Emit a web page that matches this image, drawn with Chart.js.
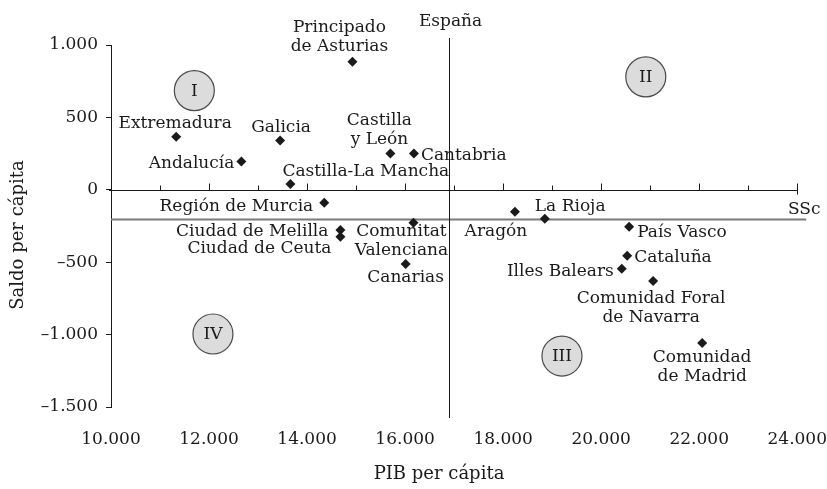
<!DOCTYPE html>
<html>
<head>
<meta charset="utf-8">
<script src="https://cdn.jsdelivr.net/npm/chart.js@4"></script>
<style>
  html, body { margin: 0; padding: 0; background: #fff; }
  canvas { display: block; }
</style>
</head>
<body>
<canvas id="chart" width="827" height="489"></canvas>
<script>
// regions (line breaks = how the label is split on the chart)
const regions = [
  "Extremadura", "Andalucía", "Galicia", "Castilla-La Mancha", "Región de Murcia",
  "Ciudad de Melilla", "Ciudad de Ceuta", "Principado\nde Asturias", "Castilla\ny León",
  "Canarias", "Cantabria", "Comunitat\nValenciana", "Aragón", "La Rioja",
  "Illes Balears", "Cataluña", "País Vasco", "Comunidad Foral\nde Navarra", "Comunidad\nde Madrid"
];
const pibPerCapita = [
  11330, 12660, 13450, 13660, 14350,
  14680, 14680, 14925, 15700,
  16010, 16180, 16170, 18240, 18850,
  20420, 20530, 20570, 21060, 22060
];
const saldoPerCapita = [
  367, 195, 340, 40, -90,
  -277, -325, 885, 250,
  -512, 250, -228, -152, -200,
  -546, -456, -256, -629, -1058
];

const xTickValues = [10000, 12000, 14000, 16000, 18000, 20000, 22000, 24000];
const xMinorTickValues = [11000, 13000, 15000, 17000, 19000, 21000, 23000];
const yTickValues = [-1500, -1000, -500, 0, 500, 1000];

const espanaPib = 16900;   // vertical reference line
const sscSaldo = -200;     // horizontal reference line

const quadrants = ["I", "II", "III", "IV"];
const quadrantPib = [11700, 20910, 19200, 12080];
const quadrantSaldo = [685, 780, -1148, -996];

// where each label sits relative to its point (pixels)
const labelPlacement = [
  { align: "center", dx: -1, dy: -13 },
  { align: "right", dx: -7, dy: 2 },
  { align: "center", dx: 1, dy: -13 },
  { align: "left", dx: -8, dy: -12 },
  { align: "right", dx: -11, dy: 4 },
  { align: "right", dx: -12, dy: 2 },
  { align: "right", dx: -9, dy: 12 },
  { align: "center", dx: -13, dy: -34 },
  { align: "center", dx: -11, dy: -33 },
  { align: "center", dx: 0, dy: 14 },
  { align: "left", dx: 7, dy: 2 },
  { align: "center", dx: -12, dy: 9 },
  { align: "center", dx: -19, dy: 20 },
  { align: "left", dx: -10, dy: -12 },
  { align: "right", dx: -8, dy: 3 },
  { align: "left", dx: 7, dy: 2 },
  { align: "left", dx: 8, dy: 6 },
  { align: "center", dx: -2, dy: 18 },
  { align: "center", dx: 0, dy: 15 }
];

const FONT = "DejaVu Serif";
const INK = "#1a1a1a";

function fmt(v) {
  const s = Math.abs(v).toString().replace(/\B(?=(\d{3})+(?!\d))/g, ".");
  return v < 0 ? "\u2013" + s : s;
}

const decorations = {
  id: "decorations",
  beforeDatasetsDraw(chart) {
    const { ctx, chartArea, scales: { x, y } } = chart;
    ctx.save();

    // SSc line
    const ys = Math.round(y.getPixelForValue(sscSaldo)) + 0.5;
    ctx.strokeStyle = "#7a7a7a";
    ctx.lineWidth = 2;
    ctx.beginPath();
    ctx.moveTo(chartArea.left, ys);
    ctx.lineTo(chartArea.right + 9, ys);
    ctx.stroke();

    // España line
    const xe = Math.round(x.getPixelForValue(espanaPib)) + 0.5;
    ctx.strokeStyle = INK;
    ctx.lineWidth = 1;
    ctx.beginPath();
    ctx.moveTo(xe, chartArea.top - 7);
    ctx.lineTo(xe, chartArea.bottom + 11);
    ctx.stroke();

    // x axis drawn at saldo = 0, ticks pointing up
    const y0 = Math.round(y.getPixelForValue(0)) + 0.5;
    ctx.beginPath();
    ctx.moveTo(chartArea.left - 2, y0);
    ctx.lineTo(chartArea.right, y0);
    xTickValues.forEach(v => {
      const px = Math.round(x.getPixelForValue(v)) + 0.5;
      ctx.moveTo(px, y0 - 7);
      ctx.lineTo(px, v === 24000 || v === 10000 ? y0 + 4 : y0);
    });
    xMinorTickValues.forEach(v => {
      const px = Math.round(x.getPixelForValue(v)) + 0.5;
      ctx.moveTo(px, y0 - 5);
      ctx.lineTo(px, y0);
    });
    ctx.stroke();

    ctx.fillStyle = INK;
    ctx.font = "17px '" + FONT + "'";
    ctx.textAlign = "center";
    ctx.textBaseline = "middle";
    ctx.fillText("España", xe + 1, chartArea.top - 23);
    ctx.fillText("SSc", chartArea.right + 7, ys - 10);
    ctx.restore();
  },
  afterDraw(chart) {
    const { ctx, chartArea, scales: { x, y } } = chart;
    ctx.save();
    ctx.font = "17px '" + FONT + "'";
    ctx.textBaseline = "middle";
    ctx.fillStyle = INK;

    // point labels
    regions.forEach((name, i) => {
      const p = labelPlacement[i];
      const px = x.getPixelForValue(pibPerCapita[i]);
      const py = y.getPixelForValue(saldoPerCapita[i]);
      ctx.textAlign = p.align;
      name.split("\n").forEach((line, k) => {
        ctx.fillText(line, px + p.dx, py + p.dy + k * 19);
      });
    });

    // quadrant circles
    quadrants.forEach((q, i) => {
      const cx = x.getPixelForValue(quadrantPib[i]);
      const cy = y.getPixelForValue(quadrantSaldo[i]);
      ctx.beginPath();
      ctx.arc(cx, cy, 20, 0, Math.PI * 2);
      ctx.fillStyle = "#dcdcdc";
      ctx.fill();
      ctx.strokeStyle = "#4a4a4a";
      ctx.lineWidth = 1.2;
      ctx.stroke();
      ctx.fillStyle = INK;
      ctx.textAlign = "center";
      ctx.fillText(q, cx, cy + 1);
    });

    // axis titles
    ctx.font = "18px '" + FONT + "'";
    ctx.textAlign = "center";
    ctx.fillText("PIB per cápita", 439, 474);
    ctx.translate(18, 235);
    ctx.rotate(-Math.PI / 2);
    ctx.fillText("Saldo per cápita", 0, 0);
    ctx.restore();
  }
};

new Chart(document.getElementById("chart"), {
  type: "scatter",
  data: {
    datasets: [{
      data: pibPerCapita.map((v, i) => ({ x: v, y: saldoPerCapita[i] })),
      pointStyle: "rectRot",
      pointRadius: 5,
      backgroundColor: INK,
      borderWidth: 0
    }]
  },
  options: {
    responsive: false,
    animation: false,
    events: [],
    layout: { padding: { top: 45, right: 0, left: 0, bottom: 0 } },
    plugins: { legend: { display: false }, tooltip: { enabled: false } },
    scales: {
      x: {
        type: "linear",
        min: 10000,
        max: 24000,
        afterBuildTicks: s => { s.ticks = xTickValues.map(v => ({ value: v })); },
        afterFit: s => { s.height = 82; },
        border: { display: false },
        // tick marks hidden; tickLength only pushes the labels down
        grid: { display: false, drawTicks: true, tickLength: 22 },
        ticks: {
          padding: 0,
          color: INK,
          font: { family: FONT, size: 17 },
          maxRotation: 0,
          callback: v => fmt(v)
        }
      },
      y: {
        min: -1500,
        max: 1000,
        afterBuildTicks: s => { s.ticks = yTickValues.map(v => ({ value: v })); },
        afterFit: s => { s.width = 111; },
        border: { display: true, color: INK, width: 1 },
        grid: { display: true, drawOnChartArea: false, drawTicks: true, tickLength: 5, color: INK },
        ticks: {
          padding: 8,
          color: INK,
          font: { family: FONT, size: 17 },
          callback: v => fmt(v)
        }
      }
    }
  },
  plugins: [decorations]
});
</script>
</body>
</html>
